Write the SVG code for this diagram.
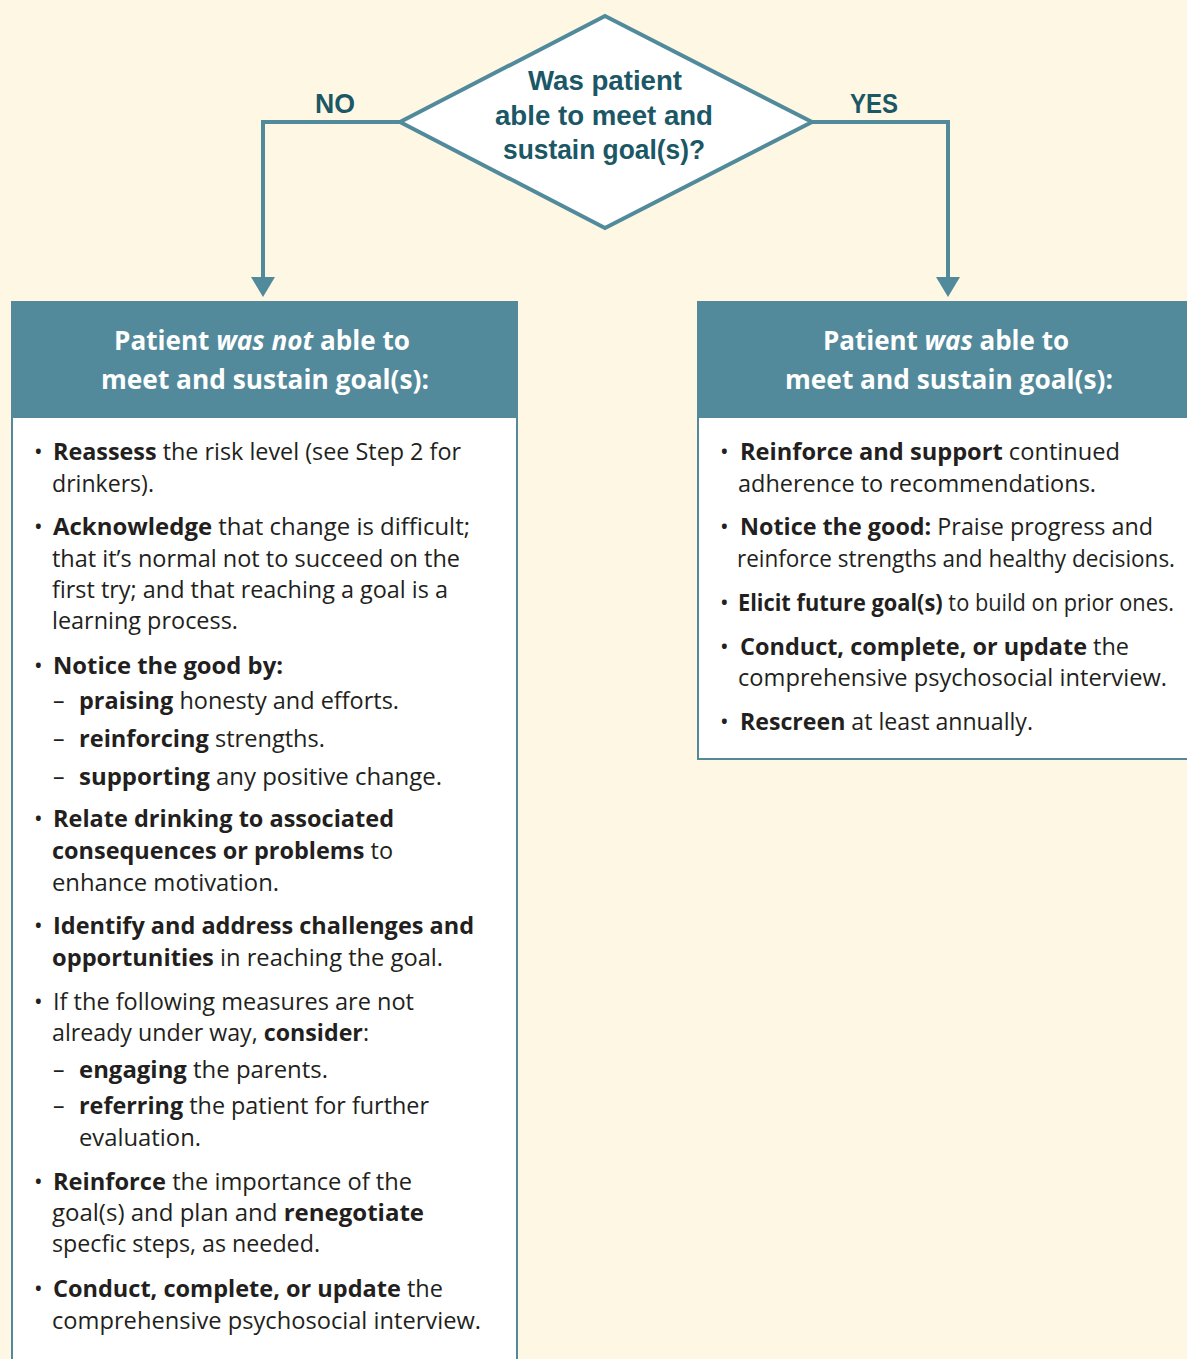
<svg xmlns="http://www.w3.org/2000/svg" width="1187" height="1359" viewBox="0 0 1187 1359">
<defs>
<style>
.bg{fill:#fef7e4}
.conn{fill:none;stroke:#518a9b;stroke-width:4}
.dia{fill:#ffffff;stroke:#518a9b;stroke-width:4;stroke-linejoin:miter}
.qt{font-family:"Liberation Sans",Arial,sans-serif;font-weight:700;font-size:27px;fill:#1b5765;text-anchor:middle}
.hdr{fill:#528a9b}
.box{fill:#ffffff;stroke:#528a9b;stroke-width:2}
.ht{font-family:"Open Sans",sans-serif;font-weight:700;font-size:26px;fill:#ffffff}
.t{font-family:"Open Sans",sans-serif;font-size:23px;fill:#231f20}
.b{font-weight:700}
.i{font-style:italic}
</style>
<marker id="arr" viewBox="0 0 20 24" refX="8" refY="12" markerWidth="20" markerHeight="24" markerUnits="userSpaceOnUse" orient="auto">
<path d="M0,0 L20,12 L0,24 z" fill="#518a9b"/>
</marker>
</defs>
<rect class="bg" x="0" y="0" width="1187" height="1359"/>

<g id="connectors">
<polyline class="conn" points="400,122 263,122 263,285" marker-end="url(#arr)"/>
<polyline class="conn" points="812,122 948,122 948,285" marker-end="url(#arr)"/>
<text class="qt" x="335" y="113" textLength="40" lengthAdjust="spacingAndGlyphs">NO</text>
<text class="qt" x="874" y="113" textLength="48" lengthAdjust="spacingAndGlyphs">YES</text>
</g>

<g id="decision">
<polygon class="dia" points="605,16 812,122 605,228 400,122"/>
<text class="qt" x="605" y="90" textLength="154" lengthAdjust="spacingAndGlyphs">Was patient</text>
<text class="qt" x="604" y="125" textLength="218" lengthAdjust="spacingAndGlyphs">able to meet and</text>
<text class="qt" x="604" y="159" textLength="202" lengthAdjust="spacingAndGlyphs">sustain goal(s)?</text>
</g>

<g id="not-able">
<rect class="box" x="12" y="302" width="505" height="1080"/>
<rect class="hdr" x="11" y="301" width="507" height="117"/>
<text class="ht" x="114" y="350" textLength="296" lengthAdjust="spacingAndGlyphs">Patient <tspan class="i">was not</tspan> able to</text>
<text class="ht" x="101" y="389" textLength="328" lengthAdjust="spacingAndGlyphs">meet and sustain goal(s):</text>
<g class="t">
<text x="34" y="460">•</text>
<text x="53" y="460" textLength="408" lengthAdjust="spacingAndGlyphs"><tspan class="b">Reassess</tspan> the risk level (see Step 2 for</text>
<text x="52" y="492" textLength="102" lengthAdjust="spacingAndGlyphs">drinkers).</text>
<text x="34" y="535">•</text>
<text x="53" y="535" textLength="417" lengthAdjust="spacingAndGlyphs"><tspan class="b">Acknowledge</tspan> that change is difficult;</text>
<text x="52" y="567" textLength="408" lengthAdjust="spacingAndGlyphs">that it’s normal not to succeed on the</text>
<text x="52" y="598" textLength="396" lengthAdjust="spacingAndGlyphs">first try; and that reaching a goal is a</text>
<text x="52" y="629" textLength="186" lengthAdjust="spacingAndGlyphs">learning process.</text>
<text x="34" y="674">•</text>
<text x="53" y="674" class="b" textLength="230" lengthAdjust="spacingAndGlyphs">Notice the good by:</text>
<text x="53" y="709">–</text>
<text x="79" y="709" textLength="320" lengthAdjust="spacingAndGlyphs"><tspan class="b">praising</tspan> honesty and efforts.</text>
<text x="53" y="747">–</text>
<text x="79" y="747" textLength="246" lengthAdjust="spacingAndGlyphs"><tspan class="b">reinforcing</tspan> strengths.</text>
<text x="53" y="785">–</text>
<text x="79" y="785" textLength="363" lengthAdjust="spacingAndGlyphs"><tspan class="b">supporting</tspan> any positive change.</text>
<text x="34" y="827">•</text>
<text x="53" y="827" class="b" textLength="341" lengthAdjust="spacingAndGlyphs">Relate drinking to associated</text>
<text x="52" y="859" textLength="341" lengthAdjust="spacingAndGlyphs"><tspan class="b">consequences or problems</tspan> to</text>
<text x="52" y="891" textLength="227" lengthAdjust="spacingAndGlyphs">enhance motivation.</text>
<text x="34" y="934">•</text>
<text x="53" y="934" class="b" textLength="421" lengthAdjust="spacingAndGlyphs">Identify and address challenges and</text>
<text x="52" y="966" textLength="391" lengthAdjust="spacingAndGlyphs"><tspan class="b">opportunities</tspan> in reaching the goal.</text>
<text x="34" y="1010">•</text>
<text x="53" y="1010" textLength="361" lengthAdjust="spacingAndGlyphs">If the following measures are not</text>
<text x="52" y="1041" textLength="317" lengthAdjust="spacingAndGlyphs">already under way, <tspan class="b">consider</tspan>:</text>
<text x="53" y="1078">–</text>
<text x="79" y="1078" textLength="249" lengthAdjust="spacingAndGlyphs"><tspan class="b">engaging</tspan> the parents.</text>
<text x="53" y="1114">–</text>
<text x="79" y="1114" textLength="350" lengthAdjust="spacingAndGlyphs"><tspan class="b">referring</tspan> the patient for further</text>
<text x="79" y="1146" textLength="122" lengthAdjust="spacingAndGlyphs">evaluation.</text>
<text x="34" y="1190">•</text>
<text x="53" y="1190" textLength="359" lengthAdjust="spacingAndGlyphs"><tspan class="b">Reinforce</tspan> the importance of the</text>
<text x="52" y="1221" textLength="372" lengthAdjust="spacingAndGlyphs">goal(s) and plan and <tspan class="b">renegotiate</tspan></text>
<text x="52" y="1252" textLength="268" lengthAdjust="spacingAndGlyphs">specfic steps, as needed.</text>
<text x="34" y="1297">•</text>
<text x="53" y="1297" textLength="390" lengthAdjust="spacingAndGlyphs"><tspan class="b">Conduct, complete, or update</tspan> the</text>
<text x="52" y="1329" textLength="429" lengthAdjust="spacingAndGlyphs">comprehensive psychosocial interview.</text>
</g>
</g>

<g id="was-able">
<rect class="box" x="698" y="302" width="520" height="457"/>
<rect class="hdr" x="697" y="301" width="500" height="117"/>
<text class="ht" x="823" y="350" textLength="246" lengthAdjust="spacingAndGlyphs">Patient <tspan class="i">was</tspan> able to</text>
<text class="ht" x="785" y="389" textLength="328" lengthAdjust="spacingAndGlyphs">meet and sustain goal(s):</text>
<g class="t">
<text x="720" y="460">•</text>
<text x="740" y="460" textLength="380" lengthAdjust="spacingAndGlyphs"><tspan class="b">Reinforce and support</tspan> continued</text>
<text x="738" y="492" textLength="358" lengthAdjust="spacingAndGlyphs">adherence to recommendations.</text>
<text x="720" y="535">•</text>
<text x="740" y="535" textLength="413" lengthAdjust="spacingAndGlyphs"><tspan class="b">Notice the good:</tspan> Praise progress and</text>
<text x="737" y="567" textLength="438" lengthAdjust="spacingAndGlyphs">reinforce strengths and healthy decisions.</text>
<text x="720" y="611">•</text>
<text x="738" y="611" textLength="436" lengthAdjust="spacingAndGlyphs"><tspan class="b">Elicit future goal(s)</tspan> to build on prior ones.</text>
<text x="720" y="655">•</text>
<text x="740" y="655" textLength="389" lengthAdjust="spacingAndGlyphs"><tspan class="b">Conduct, complete, or update</tspan> the</text>
<text x="738" y="686" textLength="429" lengthAdjust="spacingAndGlyphs">comprehensive psychosocial interview.</text>
<text x="720" y="730">•</text>
<text x="740" y="730" textLength="293" lengthAdjust="spacingAndGlyphs"><tspan class="b">Rescreen</tspan> at least annually.</text>
</g>
</g>
</svg>
